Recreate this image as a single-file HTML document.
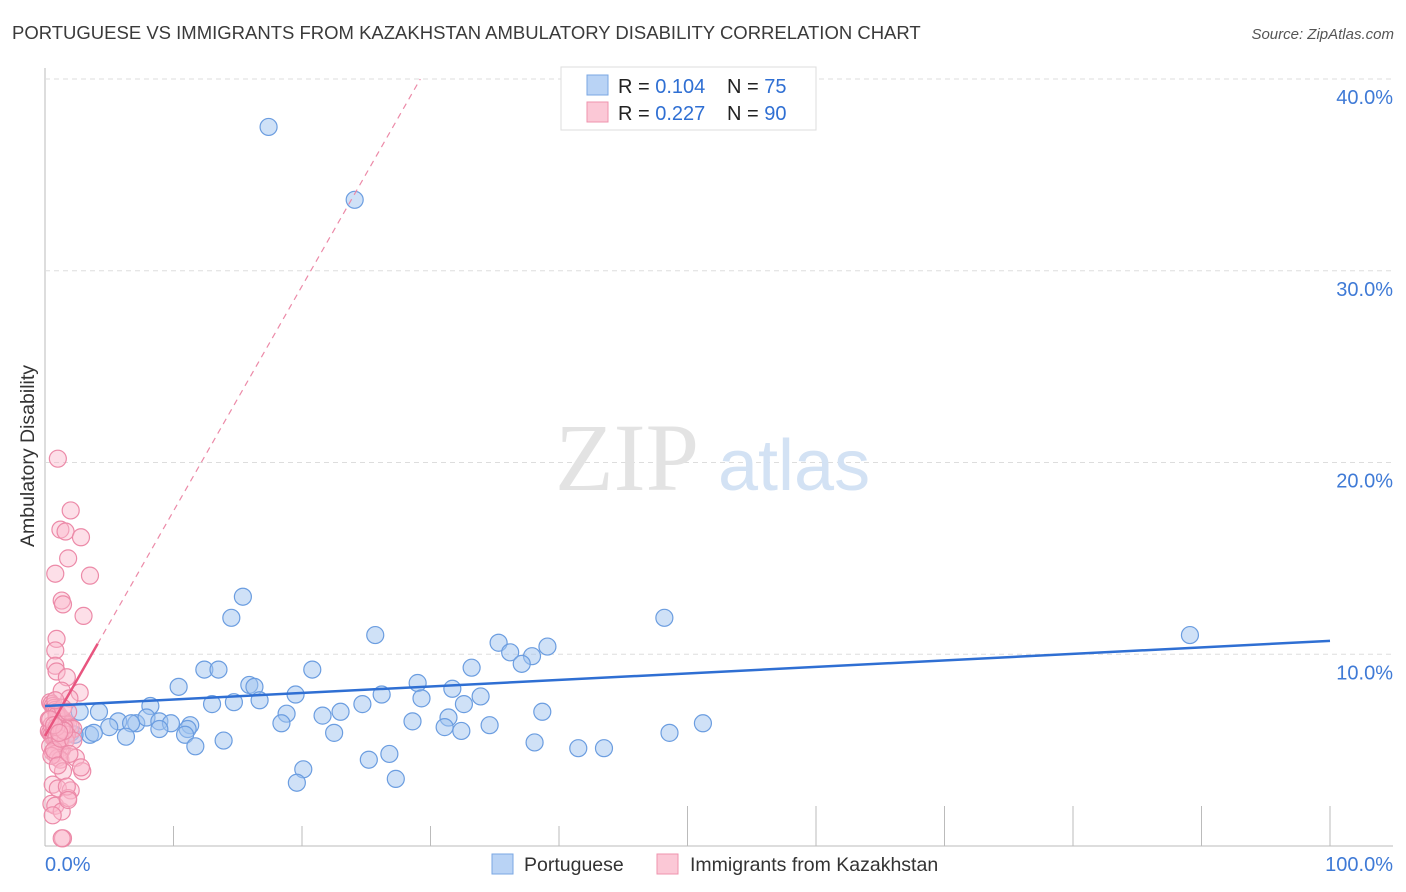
<!DOCTYPE html>
<html><head><meta charset="utf-8">
<style>
body{margin:0;background:#fff;font-family:"Liberation Sans",sans-serif;}
#wrap{position:relative;width:1406px;height:892px;overflow:hidden;}
svg{position:absolute;left:0;top:0;}
</style></head>
<body>
<div id="wrap">
<svg id="chart" width="1406" height="892">
  <text x="12" y="39" font-size="18.5" fill="#3a3a3a">PORTUGUESE VS IMMIGRANTS FROM KAZAKHSTAN AMBULATORY DISABILITY CORRELATION CHART</text>
  <text x="1394" y="39" font-size="15" font-style="italic" fill="#555" text-anchor="end">Source: ZipAtlas.com</text>
  <text x="34" y="456" font-size="19.5" fill="#333" text-anchor="middle" transform="rotate(-90 34 456)">Ambulatory Disability</text>
  <g id="grid"></g>
  <text x="555" y="490" font-size="96" font-family="Liberation Serif,serif" fill="#e3e3e3">ZIP</text>
  <text x="718" y="490" font-size="72" fill="#d3e2f4">atlas</text>
  <g id="marks"></g>
  <g>
    <rect x="561" y="67" width="255" height="63" fill="#fff" stroke="#ddd"/>
    <rect x="587" y="75" width="21" height="20" fill="#b9d3f5" stroke="#7aa7e3"/>
    <rect x="587" y="102" width="21" height="20" fill="#fbc8d6" stroke="#ef93ae"/>
    <text x="618" y="93" font-size="20" fill="#222">R = <tspan fill="#2f6fd3">0.104</tspan></text>
    <text x="727" y="93" font-size="20" fill="#222">N = <tspan fill="#2f6fd3"> 75</tspan></text>
    <text x="618" y="120" font-size="20" fill="#222">R = <tspan fill="#2f6fd3">0.227</tspan></text>
    <text x="727" y="120" font-size="20" fill="#222">N = <tspan fill="#2f6fd3">90</tspan></text>
  </g>
  <g>
    <rect x="492" y="854" width="21" height="20" fill="#b9d3f5" stroke="#7aa7e3"/>
    <text x="524" y="871" font-size="19.5" fill="#333">Portuguese</text>
    <rect x="657" y="854" width="21" height="20" fill="#fbc8d6" stroke="#ef93ae"/>
    <text x="690" y="871" font-size="19.5" fill="#333">Immigrants from Kazakhstan</text>
  </g>
</svg>
</div>
<script>
const yTicks=[10,20,30,40];
const yTickLabels=["10.0%","20.0%","30.0%","40.0%"];
const xTicks=[10,20,30,40,50,60,70,80,90,100];
const xEndLabels=["0.0%","100.0%"];
const portX=[17.4,24.1,15.4,14.5,25.7,48.2,89.1,35.3,39.1,36.2,37.9,37.1,33.2,20.8,12.4,13.5,10.4,15.9,16.3,29.0,31.7,19.5,26.2,8.2,13.0,14.7,16.7,29.3,33.9,32.6,24.7,23.0,21.6,18.8,38.7,4.2,2.7,5.7,7.1,7.9,8.9,9.8,11.3,5.0,6.7,8.9,11.1,28.6,31.4,31.1,32.4,34.6,51.2,1.2,2.0,3.5,3.8,2.3,6.3,10.9,11.7,13.9,18.4,22.5,38.1,41.5,43.5,48.6,25.2,26.8,20.1,19.6,27.3];
const portY=[37.5,33.7,13.0,11.9,11.0,11.9,11.0,10.6,10.4,10.1,9.9,9.5,9.3,9.2,9.2,9.2,8.3,8.4,8.3,8.5,8.2,7.9,7.9,7.3,7.4,7.5,7.6,7.7,7.8,7.4,7.4,7.0,6.8,6.9,7.0,7.0,7.0,6.5,6.4,6.7,6.5,6.4,6.3,6.2,6.4,6.1,6.1,6.5,6.7,6.2,6.0,6.3,6.4,6.0,5.9,5.8,5.9,5.8,5.7,5.8,5.2,5.5,6.4,5.9,5.4,5.1,5.1,5.9,4.5,4.8,4.0,3.3,3.5];
const kazX=[1.0,2.0,1.2,1.6,2.8,1.8,0.8,3.5,1.3,1.4,3.0,0.9,0.8,0.8,0.9,1.7,2.7,1.3,1.9,0.4,0.5,0.6,0.7,0.8,0.9,1.0,1.1,1.2,1.4,1.5,1.6,1.8,2.0,2.2,0.3,0.4,0.5,0.6,0.7,0.8,0.9,1.0,1.1,1.2,1.3,1.5,1.7,0.3,0.5,0.7,0.9,1.1,1.3,1.6,0.4,0.6,0.8,1.0,1.2,0.5,0.7,0.9,1.4,2.4,1.4,0.6,1.0,0.5,0.8,1.3,2.9,2.8,2.0,1.8,0.6,1.4,1.3,0.8,0.4,1.8,1.2,0.9,1.0,1.7,1.8,2.2,1.5,0.7,1.1,1.9];
const kazY=[20.2,17.5,16.5,16.4,16.1,15.0,14.2,14.1,12.8,12.6,12.0,10.8,10.2,9.4,9.1,8.8,8.0,8.1,7.7,7.5,7.4,7.3,7.2,7.1,7.0,6.9,6.8,6.7,6.6,6.5,6.4,6.3,6.2,6.1,6.0,5.9,5.8,5.7,5.6,5.5,5.4,5.3,5.2,5.1,5.0,6.2,5.8,6.6,6.3,6.0,5.7,5.4,6.1,5.5,5.2,4.9,4.8,4.6,4.5,4.7,5.0,6.8,7.2,4.6,3.9,3.2,3.0,2.2,2.1,1.8,3.9,4.1,2.9,2.5,1.6,0.4,0.4,7.6,6.6,7.0,5.6,6.2,4.2,3.1,2.4,5.5,6.0,6.3,5.9,4.8];
const portTrend=[7.3,10.7];
const kazTrend=[5.74,1.173];
const X0=45,X1=1330,Y0=846,Y40=79;
function sx(v){return X0+(X1-X0)*v/100;}
function sy(v){return Y0-(Y0-Y40)*v/40;}
const NS="http://www.w3.org/2000/svg";
function mk(t,a,p){const e=document.createElementNS(NS,t);for(const k in a)e.setAttribute(k,a[k]);p.appendChild(e);return e;}
const grid=document.getElementById('grid');
const marks=document.getElementById('marks');
mk('line',{x1:X0,y1:68,x2:X0,y2:Y0,stroke:'#bbb'},grid);
mk('line',{x1:X0,y1:Y0,x2:1393,y2:Y0,stroke:'#bbb'},grid);
yTicks.forEach((t,i)=>{
  const g=mk('line',{x1:X0,y1:sy(t),x2:1393,y2:sy(t),stroke:'#ddd','stroke-dasharray':'5,4'},grid);
  
  
  const l=mk('text',{x:1393,y:sy(t)+25,'font-size':20,fill:'#3f7ad6','text-anchor':'end'},grid);
  l.textContent=yTickLabels[i];
  
  
});
xTicks.forEach((t,i)=>{
  const tk=mk('line',{x1:sx(t),y1:t<=40?826:806,x2:sx(t),y2:Y0,stroke:'#bbb'},grid);
  
  
});
const l0=mk('text',{x:45,y:871,'font-size':20,fill:'#3f7ad6'},grid);l0.textContent=xEndLabels[0];


const l1=mk('text',{x:1393,y:871,'font-size':20,fill:'#3f7ad6','text-anchor':'end'},grid);l1.textContent=xEndLabels[1];


portX.forEach((x,i)=>{
  const c=mk('circle',{cx:sx(x),cy:sy(portY[i]),r:8.5,fill:'rgba(160,196,240,0.5)',stroke:'#6b9de0','stroke-width':1.2},marks);
  
  
});
kazX.forEach((x,i)=>{
  const c=mk('circle',{cx:sx(x),cy:sy(kazY[i]),r:8.5,fill:'rgba(250,185,205,0.45)',stroke:'#ec8aa8','stroke-width':1.2},marks);
  
  
});
const kEnd=(40-kazTrend[0])/kazTrend[1];
const kd=mk('line',{x1:sx(4.1),y1:sy(kazTrend[0]+kazTrend[1]*4.1),x2:sx(kEnd),y2:sy(40),stroke:'#ec8aa8','stroke-width':1.2,'stroke-dasharray':'6,5'},marks);


const ks=mk('line',{x1:sx(0),y1:sy(kazTrend[0]),x2:sx(4.1),y2:sy(kazTrend[0]+kazTrend[1]*4.1),stroke:'#e8557f','stroke-width':2.5},marks);


const pt=mk('line',{x1:sx(0),y1:sy(portTrend[0]),x2:sx(100),y2:sy(portTrend[1]),stroke:'#2f6fd3','stroke-width':2.5},marks);


</script>
</body></html>
